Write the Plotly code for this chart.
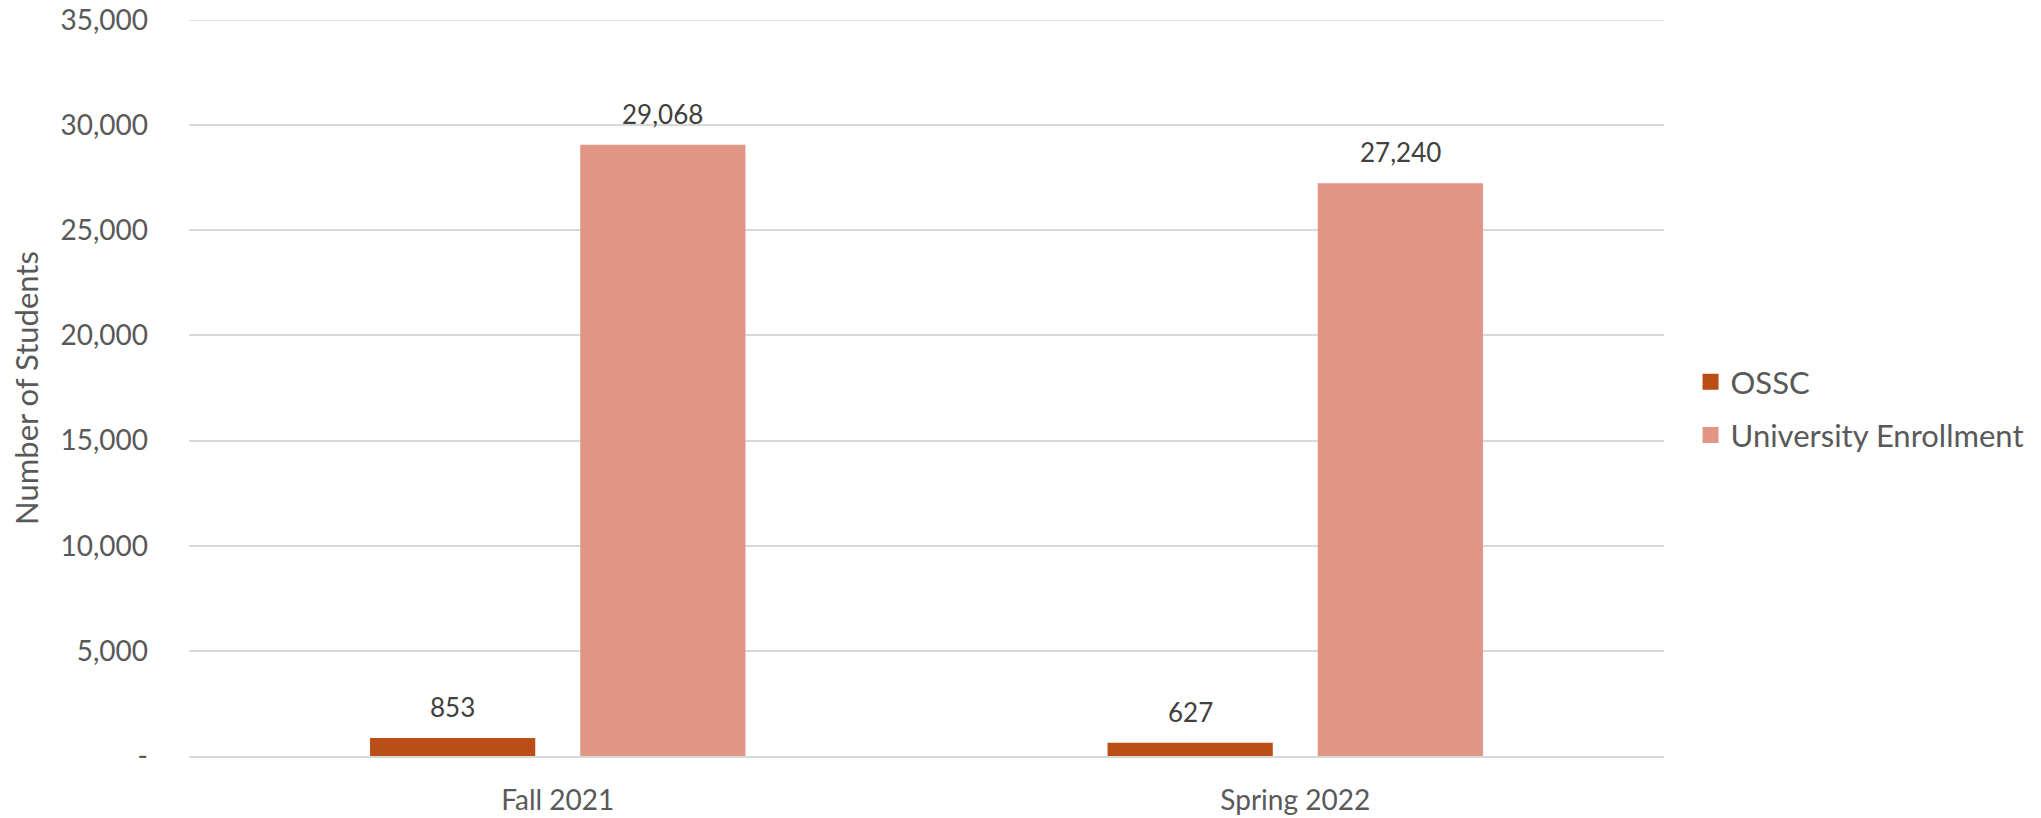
import plotly.graph_objects as go

categories = ["Fall 2021", "Spring 2022"]
ossc = [853, 627]
university = [29068, 27240]
series_names = ["OSSC", "University Enrollment"]
colors = ["#BA4E16", "#E09585"]
y_tickvals = [0, 5000, 10000, 15000, 20000, 25000, 30000, 35000]
y_ticktext = ["-", "5,000", "10,000", "15,000", "20,000", "25,000", "30,000", "35,000"]
y_max = 35000

FONT = "Lato, 'Open Sans', sans-serif"
AXIS_COLOR = "#595959"
LABEL_COLOR = "#404040"
GRID_COLOR = "#D9D9D9"

W, H = 2041, 818
ml, mr, mt, mb = 189, 377, 20, 62
bargap, bargroupgap = 0.43, 0.214

fig = go.Figure()
for name, vals, col in zip(series_names, [ossc, university], colors):
    fig.add_trace(go.Bar(x=categories, y=vals, name=name, marker_color=col,
                         marker_line_width=0, showlegend=False))
# legend entries with larger square swatches
for name, col in zip(series_names, colors):
    fig.add_trace(go.Scatter(x=[None], y=[None], mode="markers", name=name,
                             legendgroup=name, cliponaxis=False,
                             marker=dict(symbol="square", size=17, color=col)))

# data labels as annotations above bars
plot_w = W - ml - mr
cat_w = plot_w / len(categories)
slot = cat_w * (1 - bargap) / 2
for i, vals in enumerate([ossc, university]):
    shift = (i - 0.5) * slot
    for c, v in zip(categories, vals):
        fig.add_annotation(x=c, y=v, text=f"{v:,}", showarrow=False,
                           xshift=shift, yshift=31, yanchor="middle",
                           font=dict(family=FONT, size=26, color=LABEL_COLOR))

# top gridline (at the edge of the plot area)
fig.add_shape(type="line", xref="paper", yref="y", x0=0, x1=1, y0=y_max, y1=y_max,
              line=dict(color=GRID_COLOR, width=1.5), layer="below")

fig.update_layout(
    width=W, height=H,
    margin=dict(l=ml, r=mr, t=mt, b=mb, autoexpand=False),
    paper_bgcolor="white", plot_bgcolor="white",
    barmode="group", bargap=bargap, bargroupgap=bargroupgap,
    font=dict(family=FONT, color=AXIS_COLOR, size=26),
    showlegend=True,
    legend=dict(x=1.018, y=0.472, yanchor="middle", xanchor="left",
                font=dict(family=FONT, size=31, color=AXIS_COLOR),
                traceorder="grouped", tracegroupgap=10, itemsizing="trace"),
)
fig.update_xaxes(showline=True, linecolor=GRID_COLOR, linewidth=2, automargin=False,
                 ticks="", tickfont=dict(size=28, color=AXIS_COLOR), ticklabelstandoff=18)
fig.update_yaxes(range=[0, y_max], tickvals=y_tickvals, ticktext=y_ticktext,
                 showgrid=True, gridcolor=GRID_COLOR, gridwidth=1.5, automargin=False,
                 zeroline=False, showline=False, ticks="", ticklabeloverflow="allow",
                 tickfont=dict(size=28, color=AXIS_COLOR), ticklabelstandoff=40,
                 title=dict(text="Number of Students", standoff=12,
                            font=dict(size=31, color=AXIS_COLOR)))

fig.write_html("out.html", config={"displayModeBar": False},
               post_script="document.body.style.margin='0';document.body.style.overflow='hidden';")
